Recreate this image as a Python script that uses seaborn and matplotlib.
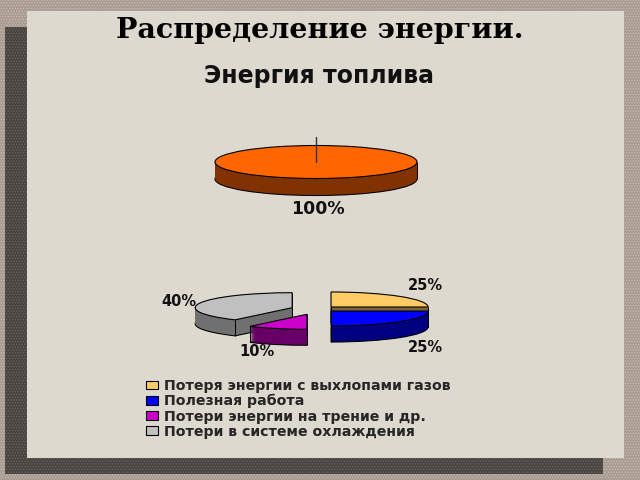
import matplotlib
matplotlib.use("Agg")
import matplotlib.pyplot as plt
from matplotlib.patches import Rectangle
import numpy as np
import seaborn as sns

# Data
title = "Распределение энергии."
fuel_title = "Энергия топлива"
fuel_values = [100]
loss_names = ["Потеря энергии с выхлопами газов", "Полезная работа",
              "Потери энергии на трение и др.", "Потери в системе охлаждения"]
loss_values = [25, 25, 10, 40]
loss_explode = [0.19, 0.19, 0.37, 0.28]

sns.set_theme(style="white")

top_colors = sns.color_palette(["#FF6600"])
top_walls = sns.color_palette(["#803300"])
loss_colors = sns.color_palette(["#FFCC66", "#0000FF", "#CC00CC", "#C0C0C0"])
loss_walls = sns.color_palette(["#806633", "#000080", "#660066", "#707070"])
draw_order = [2, 3, 1, 0]  # grey at the back, blue in front

fig = plt.figure(figsize=(6.4, 4.8), dpi=100)
plt.rcParams["hatch.linewidth"] = 0.5

# Slide background in pixel units
bg = fig.add_axes([0, 0, 1, 1])
bg.set_xlim(0, 640)
bg.set_ylim(480, 0)
bg.set_axis_off()
bg.add_patch(Rectangle((0, 0), 640, 480, fc="#A99C93", ec="#C9BEB4", hatch="......", lw=0))
bg.add_patch(Rectangle((5, 27), 598, 447, fc="#4B4643", ec="#6B6460", hatch="......", lw=0))
bg.add_patch(Rectangle((27, 11), 597, 447, fc="#DDD9CE", ec="none"))


def pie_3d(cx, cy, rx, ry, depth, values, colors, walls, order, explode=None):
    # one squashed pie on a full figure axes, side walls are stacked pies
    ax = fig.add_axes([0, 0, 1, 1])
    for k in range(depth, 0, -1):
        wedges, _ = ax.pie(values, colors=walls, explode=explode, startangle=90,
                           counterclock=False, center=(0, -k / ry),
                           wedgeprops=dict(lw=0.8 if k == depth else 0,
                                           ec="black" if k == depth else "none"))
        for w, z in zip(wedges, order):
            w.set_zorder(z * 100 + depth - k)
    wedges, _ = ax.pie(values, colors=colors, explode=explode, startangle=90,
                       counterclock=False, wedgeprops=dict(lw=0.8, ec="black"))
    for w, z in zip(wedges, order):
        w.set_zorder(z * 100 + depth + 1)
        # vertical wall edges at the cut corners and the side of the ellipse
        x0, y0 = w.center
        corners = [(x0, y0)]
        for t in [w.theta1, w.theta2, 0, 180, 360]:
            if w.theta1 <= t <= w.theta2:
                rad = np.deg2rad(t)
                corners.append((x0 + w.r * np.cos(rad), y0 + w.r * np.sin(rad)))
        for x, y in corners:
            ax.plot([x, x], [y, y - depth / ry], color="black", lw=0.7,
                    zorder=z * 100 + depth, solid_capstyle="butt")
    ax.set_aspect("auto")
    ax.set_xlim((0 - cx) / rx, (640 - cx) / rx)
    ax.set_ylim((cy - 480) / ry, cy / ry)
    ax.set_axis_off()
    return ax


top_ax = pie_3d(316, 162, 101, 16.5, 17, fuel_values, top_colors, top_walls, [0])
top_ax.plot([0, 0], [0, 1.5], color="#333333", lw=1, zorder=500)

pie_3d(318, 309, 97, 15, 16, loss_values, loss_colors, loss_walls, draw_order, loss_explode)

# Texts
text_ax = fig.add_axes([0, 0, 1, 1])
text_ax.set_xlim(0, 640)
text_ax.set_ylim(480, 0)
text_ax.set_axis_off()
text_ax.text(319.5, 31, title, family="DejaVu Serif", weight="bold", fontsize=20.5,
             ha="center", va="center", color="black")
text_ax.text(319, 76, fuel_title, family="DejaVu Sans", weight="bold", fontsize=17,
             ha="center", va="center", color="#111111")
text_ax.text(318, 209, f"{fuel_values[0]}%", family="DejaVu Sans", weight="bold", fontsize=12.5,
             ha="center", va="center", color="#111111")
label_xy = [(425, 286), (425, 348), (257, 352), (179, 301)]
for v, (x, y) in zip(loss_values, label_xy):
    text_ax.text(x, y, f"{v}%", family="DejaVu Sans", weight="bold", fontsize=10.5,
                 ha="center", va="center", color="#111111")

# Legend
handles = [Rectangle((0, 0), 1, 1, fc=c, ec="black", lw=0.8) for c in loss_colors]
text_ax.legend(handles, loss_names, loc="upper left", bbox_to_anchor=(146 / 640, 1 - 379 / 480),
               frameon=False, handlelength=0.85, handleheight=0.57,
               handletextpad=0.43, labelspacing=0.08, borderpad=0, borderaxespad=0,
               prop=dict(family="DejaVu Sans", weight="bold", size=10.2))

fig.savefig("out.png", dpi=100)
